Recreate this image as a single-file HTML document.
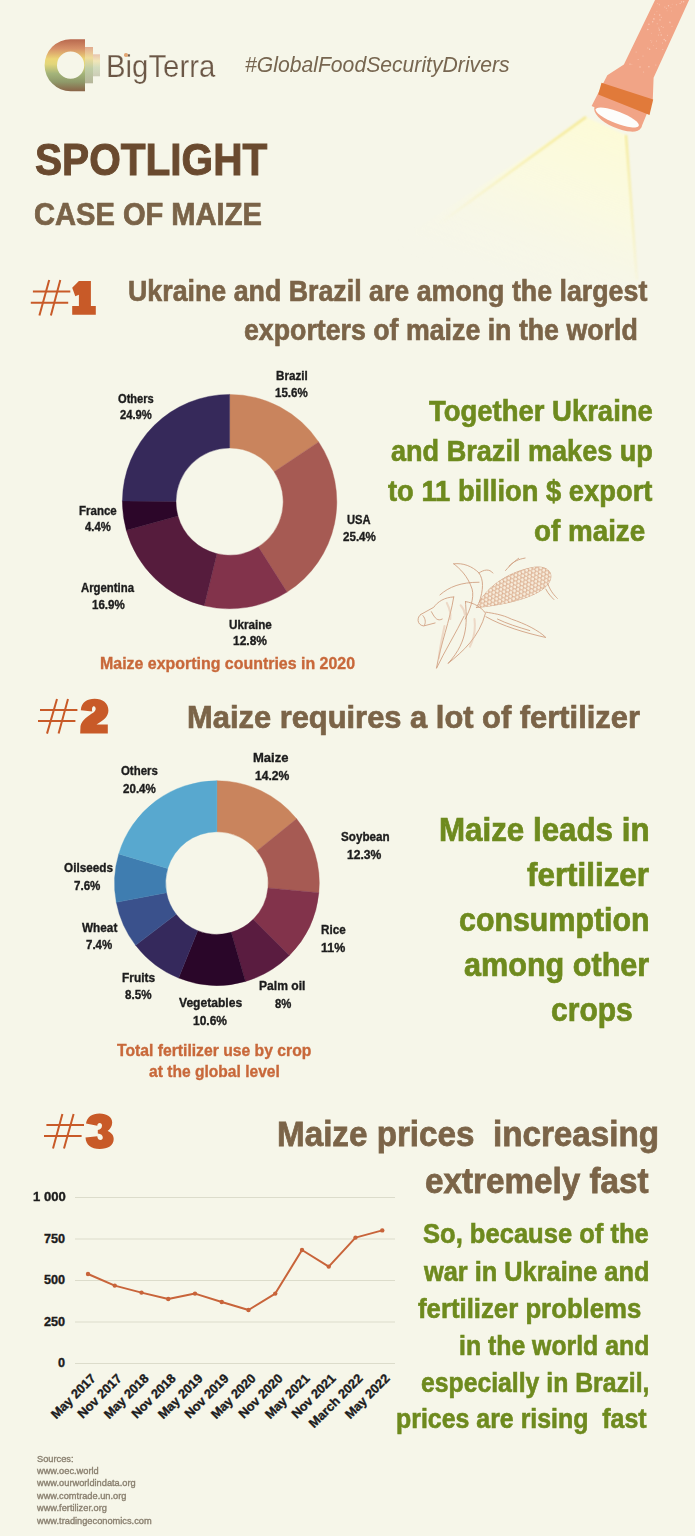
<!DOCTYPE html>
<html><head><meta charset="utf-8"><title>Spotlight: Case of Maize</title>
<style>
html,body{margin:0;padding:0;}
body{width:695px;height:1536px;background:#f6f6e9;position:relative;overflow:hidden;font-family:"Liberation Sans",sans-serif;}
.t{position:absolute;white-space:pre;line-height:1;font-weight:700;transform-origin:0 0;}
svg.g{position:absolute;left:0;top:0;}
.xl{position:absolute;white-space:pre;line-height:1;font-weight:700;text-align:right;color:#1c1c1c;transform:rotate(-45deg);-webkit-text-stroke:0.35px #1c1c1c;}
</style></head><body>
<svg class="g" width="695" height="1536" viewBox="0 0 695 1536">
<defs><linearGradient id="lg" x1="0" y1="0" x2="0" y2="1">
<stop offset="0" stop-color="#b8684e"/><stop offset="0.18" stop-color="#d69068"/>
<stop offset="0.38" stop-color="#ecd676"/><stop offset="0.48" stop-color="#e2d67a"/><stop offset="0.66" stop-color="#a4b47a"/>
<stop offset="0.82" stop-color="#8f9a6a"/><stop offset="1" stop-color="#8a6448"/></linearGradient>
<linearGradient id="lgr" x1="0" y1="0" x2="0" y2="1">
<stop offset="0" stop-color="#d88a68"/><stop offset="0.3" stop-color="#ecd27a"/>
<stop offset="0.6" stop-color="#a8bc88"/><stop offset="1" stop-color="#9a9a78"/></linearGradient></defs>
<path d="M70.6,39.20 L85,39.20 L85,91.20 L70.6,91.20 A26,26 0 0 1 70.6,39.20 Z M84.19999999999999,65.2 A13.6,13.6 0 1 0 56.99999999999999,65.2 A13.6,13.6 0 1 0 84.19999999999999,65.2 Z" fill="url(#lg)" fill-rule="evenodd"/>
<rect x="85" y="47" width="8" height="36.3" fill="url(#lgr)" opacity="0.7"/>
<rect x="93" y="54.3" width="7" height="22" fill="url(#lgr)" opacity="0.45"/>
<defs>
<linearGradient id="beam" x1="0.9" y1="0" x2="0.35" y2="1">
<stop offset="0" stop-color="#fdfbd6" stop-opacity="1"/>
<stop offset="0.45" stop-color="#fbfadf" stop-opacity="0.85"/>
<stop offset="1" stop-color="#f6f6e9" stop-opacity="0"/></linearGradient>
<linearGradient id="edgeL" x1="1" y1="0" x2="0" y2="1">
<stop offset="0" stop-color="#f4e88e" stop-opacity="1"/>
<stop offset="1" stop-color="#f4e88e" stop-opacity="0"/></linearGradient>
<linearGradient id="edgeR" x1="0" y1="0" x2="0" y2="1">
<stop offset="0" stop-color="#f4e88e" stop-opacity="1"/>
<stop offset="1" stop-color="#f4e88e" stop-opacity="0.15"/></linearGradient>
<filter id="blur1"><feGaussianBlur stdDeviation="1.2"/></filter>
</defs>
<path d="M586,117 L626,135 L637,282 L430,282 L400,240 Z" fill="url(#beam)" filter="url(#blur1)"/>
<path d="M586,117 L439,224" stroke="url(#edgeL)" stroke-width="2.2" fill="none" filter="url(#blur1)"/>
<path d="M626,135 L637,280" stroke="url(#edgeR)" stroke-width="2" fill="none" filter="url(#blur1)"/>
<path d="M656,-2 L690,-2 L653.6,77.8 L652.8,99.3 L641,128 L591.6,105.9 L607.3,75.3 L623.9,64.5 Z" fill="#f1a486"/>
<ellipse cx="617.8" cy="117.5" rx="25.5" ry="10.5" transform="rotate(24 617.8 117.5)" fill="#f1a486"/>
<g fill="#fbd2c0" opacity="0.8"><circle cx="652.7" cy="21.8" r="0.7"/><circle cx="679.3" cy="3.6" r="0.4"/><circle cx="648.9" cy="24.3" r="0.7"/><circle cx="654.6" cy="14.3" r="0.5"/><circle cx="659.4" cy="4.7" r="0.5"/><circle cx="672.2" cy="4.2" r="0.4"/><circle cx="653.3" cy="45.4" r="0.4"/><circle cx="650.5" cy="40.4" r="0.4"/><circle cx="680.3" cy="3.5" r="0.5"/><circle cx="659.4" cy="30.0" r="0.7"/><circle cx="670.2" cy="23.0" r="0.4"/><circle cx="670.9" cy="7.4" r="0.4"/><circle cx="661.2" cy="26.7" r="0.4"/><circle cx="656.4" cy="40.9" r="0.5"/><circle cx="647.8" cy="47.9" r="0.5"/><circle cx="667.5" cy="35.2" r="0.5"/><circle cx="669.9" cy="22.3" r="0.7"/><circle cx="636.1" cy="52.0" r="0.5"/><circle cx="664.2" cy="39.5" r="0.7"/><circle cx="660.1" cy="32.5" r="0.4"/><circle cx="666.4" cy="8.3" r="0.5"/><circle cx="667.1" cy="10.8" r="0.4"/><circle cx="630.0" cy="64.1" r="0.7"/><circle cx="662.5" cy="43.1" r="0.5"/><circle cx="657.2" cy="23.7" r="0.5"/><circle cx="651.9" cy="41.0" r="0.4"/><circle cx="640.0" cy="67.0" r="0.7"/><circle cx="676.4" cy="4.8" r="0.5"/><circle cx="662.8" cy="49.4" r="0.5"/><circle cx="660.0" cy="19.9" r="0.7"/><circle cx="672.0" cy="26.3" r="0.5"/><circle cx="656.9" cy="11.3" r="0.4"/><circle cx="659.7" cy="15.0" r="0.7"/><circle cx="661.3" cy="17.3" r="0.5"/><circle cx="668.5" cy="5.7" r="0.7"/><circle cx="653.8" cy="18.7" r="0.5"/><circle cx="638.1" cy="59.4" r="0.5"/><circle cx="643.6" cy="72.1" r="0.5"/><circle cx="631.9" cy="64.6" r="0.4"/><circle cx="671.5" cy="11.0" r="0.4"/><circle cx="658.4" cy="35.0" r="0.5"/><circle cx="653.9" cy="19.0" r="0.7"/><circle cx="661.7" cy="26.5" r="0.4"/><circle cx="649.6" cy="49.2" r="0.7"/><circle cx="656.3" cy="48.3" r="0.5"/><circle cx="648.9" cy="66.7" r="0.7"/><circle cx="643.0" cy="55.9" r="0.5"/><circle cx="658.8" cy="28.0" r="0.5"/><circle cx="659.1" cy="4.1" r="0.4"/><circle cx="647.8" cy="29.5" r="0.7"/><circle cx="657.6" cy="3.5" r="0.4"/><circle cx="665.6" cy="40.7" r="0.7"/><circle cx="681.5" cy="1.9" r="0.7"/><circle cx="663.2" cy="27.3" r="0.5"/><circle cx="651.6" cy="42.7" r="0.4"/><circle cx="655.8" cy="64.9" r="0.5"/><circle cx="651.6" cy="33.2" r="0.4"/><circle cx="664.9" cy="7.1" r="0.5"/><circle cx="661.2" cy="35.0" r="0.7"/><circle cx="683.6" cy="1.8" r="0.7"/></g>
<path d="M601.5,82.7 L653.2,99.5 L649.5,115 L598.2,94.5 Z" fill="#e17a3a"/>
<ellipse cx="617.3" cy="117.5" rx="23" ry="5.9" transform="rotate(21 617.3 117.5)" fill="#fdfdfb"/>
<line x1="32.9" y1="291.6" x2="70.3" y2="291.6" stroke="#c85a28" stroke-width="2"/>
<line x1="30.8" y1="302.7" x2="68.2" y2="302.7" stroke="#c85a28" stroke-width="2"/>
<line x1="49.2" y1="280.1" x2="39.4" y2="315.4" stroke="#c85a28" stroke-width="2"/>
<line x1="60.3" y1="280.1" x2="50.9" y2="315.4" stroke="#c85a28" stroke-width="2"/>
<path d="M78.9,281 L90.9,281 L90.9,306.1 L95.8,306.1 L95.8,314.7 L72.2,314.7 L72.2,306.1 L78.9,306.1 L78.9,294.7 L75.3,296.3 L72.2,287.7 Z" fill="#c85a28"/>
<line x1="40" y1="710" x2="77.4" y2="710" stroke="#c85a28" stroke-width="2"/>
<line x1="38" y1="721" x2="75.4" y2="721" stroke="#c85a28" stroke-width="2"/>
<line x1="57" y1="699" x2="47" y2="733.6" stroke="#c85a28" stroke-width="2"/>
<line x1="68" y1="699" x2="58.6" y2="733.6" stroke="#c85a28" stroke-width="2"/>
<path d="M80.8,710.3 C81.5,702 87,698.8 94.6,698.8 C102.5,698.8 108.4,703 108.4,710.5 C108.4,717 103,720.5 96.5,724.6 L107.8,724.6 L107.8,733.6 L80.2,733.6 L80.5,726 C82,720 88,716 93.5,712.5 C96,710.5 96.5,708 94.6,706.5 C92.5,705.5 91.5,708.5 92.3,711.5 Z" fill="#c85a28"/>
<line x1="46.4" y1="1125" x2="84" y2="1125" stroke="#c85a28" stroke-width="2"/>
<line x1="44" y1="1136" x2="81.6" y2="1136" stroke="#c85a28" stroke-width="2"/>
<line x1="62.4" y1="1114" x2="53" y2="1148.6" stroke="#c85a28" stroke-width="2"/>
<line x1="73.6" y1="1114" x2="64" y2="1148.6" stroke="#c85a28" stroke-width="2"/>
<path d="M86,1123.5 C87,1117 92,1113.5 99.5,1113.5 C107,1113.5 112.2,1117 112.2,1122.5 C112.2,1126.5 110,1129 107.6,1131 C111,1132.5 113.7,1135 113.7,1139 C113.7,1145.5 108,1148.9 99.6,1148.9 C91,1148.9 86,1145 85.5,1137.4 L97.3,1136.2 C97.5,1139 99,1140 100.5,1140 C102,1140 102.8,1139 102.8,1137.5 C102.8,1135 101,1134 97.8,1133.5 L97.8,1130 C100.5,1129.5 102,1128 102,1125.5 C102,1124 101,1123 99.7,1123 C98.3,1123 97.3,1124 97.3,1125.8 Z" fill="#c85a28"/>
<path d="M229.60,394.40 A107.2,107.2 0 0 1 318.64,441.90 L274.12,471.75 A53.6,53.6 0 0 0 229.60,448.00 Z" fill="#c9845d" stroke="#c9845d" stroke-width="0.4"/>
<path d="M318.64,441.90 A107.2,107.2 0 0 1 287.04,592.11 L258.32,546.86 A53.6,53.6 0 0 0 274.12,471.75 Z" fill="#a65a53" stroke="#a65a53" stroke-width="0.4"/>
<path d="M287.04,592.11 A107.2,107.2 0 0 1 204.25,605.76 L216.92,553.68 A53.6,53.6 0 0 0 258.32,546.86 Z" fill="#82334b" stroke="#82334b" stroke-width="0.4"/>
<path d="M204.25,605.76 A107.2,107.2 0 0 1 126.29,530.21 L177.94,515.91 A53.6,53.6 0 0 0 216.92,553.68 Z" fill="#561c3d" stroke="#561c3d" stroke-width="0.4"/>
<path d="M126.29,530.21 A107.2,107.2 0 0 1 122.40,500.93 L176.00,501.26 A53.6,53.6 0 0 0 177.94,515.91 Z" fill="#2c0629" stroke="#2c0629" stroke-width="0.4"/>
<path d="M122.40,500.93 A107.2,107.2 0 0 1 229.60,394.40 L229.60,448.00 A53.6,53.6 0 0 0 176.00,501.26 Z" fill="#36295a" stroke="#36295a" stroke-width="0.4"/>
<path d="M216.90,780.70 A102.4,102.4 0 0 1 296.61,818.82 L256.84,850.90 A51.3,51.3 0 0 0 216.90,831.80 Z" fill="#c9845d" stroke="#c9845d" stroke-width="0.4"/>
<path d="M296.61,818.82 A102.4,102.4 0 0 1 318.85,892.74 L267.97,887.93 A51.3,51.3 0 0 0 256.84,850.90 Z" fill="#a65a53" stroke="#a65a53" stroke-width="0.4"/>
<path d="M318.85,892.74 A102.4,102.4 0 0 1 289.31,955.51 L253.17,919.37 A51.3,51.3 0 0 0 267.97,887.93 Z" fill="#82334b" stroke="#82334b" stroke-width="0.4"/>
<path d="M289.31,955.51 A102.4,102.4 0 0 1 245.47,981.43 L231.21,932.36 A51.3,51.3 0 0 0 253.17,919.37 Z" fill="#5a1c40" stroke="#5a1c40" stroke-width="0.4"/>
<path d="M245.47,981.43 A102.4,102.4 0 0 1 178.61,978.07 L197.72,930.68 A51.3,51.3 0 0 0 231.21,932.36 Z" fill="#2a0629" stroke="#2a0629" stroke-width="0.4"/>
<path d="M178.61,978.07 A102.4,102.4 0 0 1 135.60,945.35 L176.17,914.29 A51.3,51.3 0 0 0 197.72,930.68 Z" fill="#35295c" stroke="#35295c" stroke-width="0.4"/>
<path d="M135.60,945.35 A102.4,102.4 0 0 1 116.31,902.29 L166.51,892.71 A51.3,51.3 0 0 0 176.17,914.29 Z" fill="#3a518c" stroke="#3a518c" stroke-width="0.4"/>
<path d="M116.31,902.29 A102.4,102.4 0 0 1 118.75,853.91 L167.73,868.48 A51.3,51.3 0 0 0 166.51,892.71 Z" fill="#3f7db0" stroke="#3f7db0" stroke-width="0.4"/>
<path d="M118.75,853.91 A102.4,102.4 0 0 1 216.90,780.70 L216.90,831.80 A51.3,51.3 0 0 0 167.73,868.48 Z" fill="#58a8cf" stroke="#58a8cf" stroke-width="0.4"/>
<line x1="75" y1="1197.50" x2="395" y2="1197.50" stroke="#dcdccb" stroke-width="1"/>
<line x1="75" y1="1239.00" x2="395" y2="1239.00" stroke="#dcdccb" stroke-width="1"/>
<line x1="75" y1="1280.50" x2="395" y2="1280.50" stroke="#dcdccb" stroke-width="1"/>
<line x1="75" y1="1322.00" x2="395" y2="1322.00" stroke="#dcdccb" stroke-width="1"/>
<line x1="75" y1="1363.50" x2="395" y2="1363.50" stroke="#dcdccb" stroke-width="1"/>
<path d="M88.00,1274.00 L114.75,1285.60 L141.50,1292.60 L168.25,1299.00 L195.00,1293.60 L221.75,1302.00 L248.50,1310.00 L275.25,1293.60 L302.00,1250.00 L328.75,1266.60 L355.50,1237.60 L382.25,1230.40" stroke="#c8643a" stroke-width="2" fill="none" stroke-linejoin="round"/>
<circle cx="88.00" cy="1274.00" r="2.2" fill="#c8643a"/>
<circle cx="114.75" cy="1285.60" r="2.2" fill="#c8643a"/>
<circle cx="141.50" cy="1292.60" r="2.2" fill="#c8643a"/>
<circle cx="168.25" cy="1299.00" r="2.2" fill="#c8643a"/>
<circle cx="195.00" cy="1293.60" r="2.2" fill="#c8643a"/>
<circle cx="221.75" cy="1302.00" r="2.2" fill="#c8643a"/>
<circle cx="248.50" cy="1310.00" r="2.2" fill="#c8643a"/>
<circle cx="275.25" cy="1293.60" r="2.2" fill="#c8643a"/>
<circle cx="302.00" cy="1250.00" r="2.2" fill="#c8643a"/>
<circle cx="328.75" cy="1266.60" r="2.2" fill="#c8643a"/>
<circle cx="355.50" cy="1237.60" r="2.2" fill="#c8643a"/>
<circle cx="382.25" cy="1230.40" r="2.2" fill="#c8643a"/>
<defs><clipPath id="cobclip"><path d="M290,250 C320,170 420,95 540,75 C600,68 625,100 605,140 C580,185 480,230 290,250 Z"/></clipPath></defs>
<g transform="translate(410,550) scale(0.2302)" fill="none" stroke="#d09e80" stroke-width="3.8" stroke-linecap="round" stroke-linejoin="round">
<path d="M290,250 C320,170 420,95 540,75 C600,68 625,100 605,140 C580,185 480,230 290,250 Z"/>
<g clip-path="url(#cobclip)" stroke-width="2.4" stroke="#d9a585" fill="#f6ead9"><circle cx="217.3" cy="168.1" r="8.2"/><circle cx="215.7" cy="185.3" r="8.2"/><circle cx="229.5" cy="195.5" r="8.2"/><circle cx="227.9" cy="212.7" r="8.2"/><circle cx="241.7" cy="222.9" r="8.2"/><circle cx="240.1" cy="240.1" r="8.2"/><circle cx="253.9" cy="250.3" r="8.2"/><circle cx="252.3" cy="267.5" r="8.2"/><circle cx="266.1" cy="277.7" r="8.2"/><circle cx="264.5" cy="294.9" r="8.2"/><circle cx="278.4" cy="305.1" r="8.2"/><circle cx="276.7" cy="322.3" r="8.2"/><circle cx="232.9" cy="161.2" r="8.2"/><circle cx="231.2" cy="178.3" r="8.2"/><circle cx="245.1" cy="188.6" r="8.2"/><circle cx="243.4" cy="205.7" r="8.2"/><circle cx="257.3" cy="216.0" r="8.2"/><circle cx="255.6" cy="233.1" r="8.2"/><circle cx="269.5" cy="243.4" r="8.2"/><circle cx="267.8" cy="260.6" r="8.2"/><circle cx="281.7" cy="270.8" r="8.2"/><circle cx="280.0" cy="288.0" r="8.2"/><circle cx="293.9" cy="298.2" r="8.2"/><circle cx="292.2" cy="315.4" r="8.2"/><circle cx="248.4" cy="154.3" r="8.2"/><circle cx="246.7" cy="171.4" r="8.2"/><circle cx="260.6" cy="181.7" r="8.2"/><circle cx="258.9" cy="198.8" r="8.2"/><circle cx="272.8" cy="209.1" r="8.2"/><circle cx="271.1" cy="226.2" r="8.2"/><circle cx="285.0" cy="236.5" r="8.2"/><circle cx="283.3" cy="253.6" r="8.2"/><circle cx="297.2" cy="263.9" r="8.2"/><circle cx="295.5" cy="281.0" r="8.2"/><circle cx="309.4" cy="291.3" r="8.2"/><circle cx="307.7" cy="308.5" r="8.2"/><circle cx="263.9" cy="147.3" r="8.2"/><circle cx="262.3" cy="164.5" r="8.2"/><circle cx="276.1" cy="174.8" r="8.2"/><circle cx="274.5" cy="191.9" r="8.2"/><circle cx="288.3" cy="202.2" r="8.2"/><circle cx="286.7" cy="219.3" r="8.2"/><circle cx="300.5" cy="229.6" r="8.2"/><circle cx="298.9" cy="246.7" r="8.2"/><circle cx="312.7" cy="257.0" r="8.2"/><circle cx="311.1" cy="274.1" r="8.2"/><circle cx="324.9" cy="284.4" r="8.2"/><circle cx="323.3" cy="301.5" r="8.2"/><circle cx="279.5" cy="140.4" r="8.2"/><circle cx="277.8" cy="157.6" r="8.2"/><circle cx="291.7" cy="167.8" r="8.2"/><circle cx="290.0" cy="185.0" r="8.2"/><circle cx="303.9" cy="195.2" r="8.2"/><circle cx="302.2" cy="212.4" r="8.2"/><circle cx="316.1" cy="222.7" r="8.2"/><circle cx="314.4" cy="239.8" r="8.2"/><circle cx="328.3" cy="250.1" r="8.2"/><circle cx="326.6" cy="267.2" r="8.2"/><circle cx="340.5" cy="277.5" r="8.2"/><circle cx="338.8" cy="294.6" r="8.2"/><circle cx="295.0" cy="133.5" r="8.2"/><circle cx="293.3" cy="150.7" r="8.2"/><circle cx="307.2" cy="160.9" r="8.2"/><circle cx="305.5" cy="178.1" r="8.2"/><circle cx="319.4" cy="188.3" r="8.2"/><circle cx="317.7" cy="205.5" r="8.2"/><circle cx="331.6" cy="215.7" r="8.2"/><circle cx="329.9" cy="232.9" r="8.2"/><circle cx="343.8" cy="243.1" r="8.2"/><circle cx="342.1" cy="260.3" r="8.2"/><circle cx="356.0" cy="270.6" r="8.2"/><circle cx="354.3" cy="287.7" r="8.2"/><circle cx="310.5" cy="126.6" r="8.2"/><circle cx="308.9" cy="143.8" r="8.2"/><circle cx="322.7" cy="154.0" r="8.2"/><circle cx="321.1" cy="171.2" r="8.2"/><circle cx="334.9" cy="181.4" r="8.2"/><circle cx="333.3" cy="198.6" r="8.2"/><circle cx="347.1" cy="208.8" r="8.2"/><circle cx="345.5" cy="226.0" r="8.2"/><circle cx="359.3" cy="236.2" r="8.2"/><circle cx="357.7" cy="253.4" r="8.2"/><circle cx="371.5" cy="263.6" r="8.2"/><circle cx="369.9" cy="280.8" r="8.2"/><circle cx="326.1" cy="119.7" r="8.2"/><circle cx="324.4" cy="136.9" r="8.2"/><circle cx="338.3" cy="147.1" r="8.2"/><circle cx="336.6" cy="164.3" r="8.2"/><circle cx="350.5" cy="174.5" r="8.2"/><circle cx="348.8" cy="191.7" r="8.2"/><circle cx="362.7" cy="201.9" r="8.2"/><circle cx="361.0" cy="219.1" r="8.2"/><circle cx="374.9" cy="229.3" r="8.2"/><circle cx="373.2" cy="246.5" r="8.2"/><circle cx="387.1" cy="256.7" r="8.2"/><circle cx="385.4" cy="273.9" r="8.2"/><circle cx="341.6" cy="112.8" r="8.2"/><circle cx="339.9" cy="129.9" r="8.2"/><circle cx="353.8" cy="140.2" r="8.2"/><circle cx="352.1" cy="157.3" r="8.2"/><circle cx="366.0" cy="167.6" r="8.2"/><circle cx="364.3" cy="184.7" r="8.2"/><circle cx="378.2" cy="195.0" r="8.2"/><circle cx="376.5" cy="212.2" r="8.2"/><circle cx="390.4" cy="222.4" r="8.2"/><circle cx="388.7" cy="239.6" r="8.2"/><circle cx="402.6" cy="249.8" r="8.2"/><circle cx="400.9" cy="267.0" r="8.2"/><circle cx="357.1" cy="105.9" r="8.2"/><circle cx="355.4" cy="123.0" r="8.2"/><circle cx="369.3" cy="133.3" r="8.2"/><circle cx="367.7" cy="150.4" r="8.2"/><circle cx="381.5" cy="160.7" r="8.2"/><circle cx="379.9" cy="177.8" r="8.2"/><circle cx="393.7" cy="188.1" r="8.2"/><circle cx="392.1" cy="205.2" r="8.2"/><circle cx="405.9" cy="215.5" r="8.2"/><circle cx="404.3" cy="232.6" r="8.2"/><circle cx="418.1" cy="242.9" r="8.2"/><circle cx="416.5" cy="260.1" r="8.2"/><circle cx="372.6" cy="98.9" r="8.2"/><circle cx="371.0" cy="116.1" r="8.2"/><circle cx="384.8" cy="126.4" r="8.2"/><circle cx="383.2" cy="143.5" r="8.2"/><circle cx="397.0" cy="153.8" r="8.2"/><circle cx="395.4" cy="170.9" r="8.2"/><circle cx="409.2" cy="181.2" r="8.2"/><circle cx="407.6" cy="198.3" r="8.2"/><circle cx="421.5" cy="208.6" r="8.2"/><circle cx="419.8" cy="225.7" r="8.2"/><circle cx="433.7" cy="236.0" r="8.2"/><circle cx="432.0" cy="253.1" r="8.2"/><circle cx="388.2" cy="92.0" r="8.2"/><circle cx="386.5" cy="109.2" r="8.2"/><circle cx="400.4" cy="119.4" r="8.2"/><circle cx="398.7" cy="136.6" r="8.2"/><circle cx="412.6" cy="146.8" r="8.2"/><circle cx="410.9" cy="164.0" r="8.2"/><circle cx="424.8" cy="174.3" r="8.2"/><circle cx="423.1" cy="191.4" r="8.2"/><circle cx="437.0" cy="201.7" r="8.2"/><circle cx="435.3" cy="218.8" r="8.2"/><circle cx="449.2" cy="229.1" r="8.2"/><circle cx="447.5" cy="246.2" r="8.2"/><circle cx="403.7" cy="85.1" r="8.2"/><circle cx="402.0" cy="102.3" r="8.2"/><circle cx="415.9" cy="112.5" r="8.2"/><circle cx="414.2" cy="129.7" r="8.2"/><circle cx="428.1" cy="139.9" r="8.2"/><circle cx="426.4" cy="157.1" r="8.2"/><circle cx="440.3" cy="167.3" r="8.2"/><circle cx="438.6" cy="184.5" r="8.2"/><circle cx="452.5" cy="194.7" r="8.2"/><circle cx="450.8" cy="211.9" r="8.2"/><circle cx="464.7" cy="222.1" r="8.2"/><circle cx="463.1" cy="239.3" r="8.2"/><circle cx="419.2" cy="78.2" r="8.2"/><circle cx="417.6" cy="95.4" r="8.2"/><circle cx="431.4" cy="105.6" r="8.2"/><circle cx="429.8" cy="122.8" r="8.2"/><circle cx="443.6" cy="133.0" r="8.2"/><circle cx="442.0" cy="150.2" r="8.2"/><circle cx="455.8" cy="160.4" r="8.2"/><circle cx="454.2" cy="177.6" r="8.2"/><circle cx="468.0" cy="187.8" r="8.2"/><circle cx="466.4" cy="205.0" r="8.2"/><circle cx="480.2" cy="215.2" r="8.2"/><circle cx="478.6" cy="232.4" r="8.2"/><circle cx="434.8" cy="71.3" r="8.2"/><circle cx="433.1" cy="88.4" r="8.2"/><circle cx="447.0" cy="98.7" r="8.2"/><circle cx="445.3" cy="115.9" r="8.2"/><circle cx="459.2" cy="126.1" r="8.2"/><circle cx="457.5" cy="143.3" r="8.2"/><circle cx="471.4" cy="153.5" r="8.2"/><circle cx="469.7" cy="170.7" r="8.2"/><circle cx="483.6" cy="180.9" r="8.2"/><circle cx="481.9" cy="198.1" r="8.2"/><circle cx="495.8" cy="208.3" r="8.2"/><circle cx="494.1" cy="225.5" r="8.2"/><circle cx="450.3" cy="64.4" r="8.2"/><circle cx="448.6" cy="81.5" r="8.2"/><circle cx="462.5" cy="91.8" r="8.2"/><circle cx="460.8" cy="108.9" r="8.2"/><circle cx="474.7" cy="119.2" r="8.2"/><circle cx="473.0" cy="136.3" r="8.2"/><circle cx="486.9" cy="146.6" r="8.2"/><circle cx="485.2" cy="163.8" r="8.2"/><circle cx="499.1" cy="174.0" r="8.2"/><circle cx="497.4" cy="191.2" r="8.2"/><circle cx="511.3" cy="201.4" r="8.2"/><circle cx="509.6" cy="218.6" r="8.2"/><circle cx="465.8" cy="57.5" r="8.2"/><circle cx="464.2" cy="74.6" r="8.2"/><circle cx="478.0" cy="84.9" r="8.2"/><circle cx="476.4" cy="102.0" r="8.2"/><circle cx="490.2" cy="112.3" r="8.2"/><circle cx="488.6" cy="129.4" r="8.2"/><circle cx="502.4" cy="139.7" r="8.2"/><circle cx="500.8" cy="156.8" r="8.2"/><circle cx="514.6" cy="167.1" r="8.2"/><circle cx="513.0" cy="184.2" r="8.2"/><circle cx="526.8" cy="194.5" r="8.2"/><circle cx="525.2" cy="211.7" r="8.2"/><circle cx="481.4" cy="50.5" r="8.2"/><circle cx="479.7" cy="67.7" r="8.2"/><circle cx="493.6" cy="78.0" r="8.2"/><circle cx="491.9" cy="95.1" r="8.2"/><circle cx="505.8" cy="105.4" r="8.2"/><circle cx="504.1" cy="122.5" r="8.2"/><circle cx="518.0" cy="132.8" r="8.2"/><circle cx="516.3" cy="149.9" r="8.2"/><circle cx="530.2" cy="160.2" r="8.2"/><circle cx="528.5" cy="177.3" r="8.2"/><circle cx="542.4" cy="187.6" r="8.2"/><circle cx="540.7" cy="204.7" r="8.2"/><circle cx="496.9" cy="43.6" r="8.2"/><circle cx="495.2" cy="60.8" r="8.2"/><circle cx="509.1" cy="71.0" r="8.2"/><circle cx="507.4" cy="88.2" r="8.2"/><circle cx="521.3" cy="98.4" r="8.2"/><circle cx="519.6" cy="115.6" r="8.2"/><circle cx="533.5" cy="125.8" r="8.2"/><circle cx="531.8" cy="143.0" r="8.2"/><circle cx="545.7" cy="153.3" r="8.2"/><circle cx="544.0" cy="170.4" r="8.2"/><circle cx="557.9" cy="180.7" r="8.2"/><circle cx="556.2" cy="197.8" r="8.2"/><circle cx="512.4" cy="36.7" r="8.2"/><circle cx="510.8" cy="53.9" r="8.2"/><circle cx="524.6" cy="64.1" r="8.2"/><circle cx="523.0" cy="81.3" r="8.2"/><circle cx="536.8" cy="91.5" r="8.2"/><circle cx="535.2" cy="108.7" r="8.2"/><circle cx="549.0" cy="118.9" r="8.2"/><circle cx="547.4" cy="136.1" r="8.2"/><circle cx="561.2" cy="146.3" r="8.2"/><circle cx="559.6" cy="163.5" r="8.2"/><circle cx="573.4" cy="173.7" r="8.2"/><circle cx="571.8" cy="190.9" r="8.2"/><circle cx="527.9" cy="29.8" r="8.2"/><circle cx="526.3" cy="47.0" r="8.2"/><circle cx="540.1" cy="57.2" r="8.2"/><circle cx="538.5" cy="74.4" r="8.2"/><circle cx="552.4" cy="84.6" r="8.2"/><circle cx="550.7" cy="101.8" r="8.2"/><circle cx="564.6" cy="112.0" r="8.2"/><circle cx="562.9" cy="129.2" r="8.2"/><circle cx="576.8" cy="139.4" r="8.2"/><circle cx="575.1" cy="156.6" r="8.2"/><circle cx="589.0" cy="166.8" r="8.2"/><circle cx="587.3" cy="184.0" r="8.2"/><circle cx="543.5" cy="22.9" r="8.2"/><circle cx="541.8" cy="40.0" r="8.2"/><circle cx="555.7" cy="50.3" r="8.2"/><circle cx="554.0" cy="67.5" r="8.2"/><circle cx="567.9" cy="77.7" r="8.2"/><circle cx="566.2" cy="94.9" r="8.2"/><circle cx="580.1" cy="105.1" r="8.2"/><circle cx="578.4" cy="122.3" r="8.2"/><circle cx="592.3" cy="132.5" r="8.2"/><circle cx="590.6" cy="149.7" r="8.2"/><circle cx="604.5" cy="159.9" r="8.2"/><circle cx="602.8" cy="177.1" r="8.2"/><circle cx="559.0" cy="16.0" r="8.2"/><circle cx="557.3" cy="33.1" r="8.2"/><circle cx="571.2" cy="43.4" r="8.2"/><circle cx="569.5" cy="60.5" r="8.2"/><circle cx="583.4" cy="70.8" r="8.2"/><circle cx="581.7" cy="87.9" r="8.2"/><circle cx="595.6" cy="98.2" r="8.2"/><circle cx="593.9" cy="115.4" r="8.2"/><circle cx="607.8" cy="125.6" r="8.2"/><circle cx="606.2" cy="142.8" r="8.2"/><circle cx="620.0" cy="153.0" r="8.2"/><circle cx="618.4" cy="170.2" r="8.2"/><circle cx="574.5" cy="9.1" r="8.2"/><circle cx="572.9" cy="26.2" r="8.2"/><circle cx="586.7" cy="36.5" r="8.2"/><circle cx="585.1" cy="53.6" r="8.2"/><circle cx="598.9" cy="63.9" r="8.2"/><circle cx="597.3" cy="81.0" r="8.2"/><circle cx="611.1" cy="91.3" r="8.2"/><circle cx="609.5" cy="108.4" r="8.2"/><circle cx="623.3" cy="118.7" r="8.2"/><circle cx="621.7" cy="135.8" r="8.2"/><circle cx="635.5" cy="146.1" r="8.2"/><circle cx="633.9" cy="163.2" r="8.2"/><circle cx="590.1" cy="2.1" r="8.2"/><circle cx="588.4" cy="19.3" r="8.2"/><circle cx="602.3" cy="29.5" r="8.2"/><circle cx="600.6" cy="46.7" r="8.2"/><circle cx="614.5" cy="57.0" r="8.2"/><circle cx="612.8" cy="74.1" r="8.2"/><circle cx="626.7" cy="84.4" r="8.2"/><circle cx="625.0" cy="101.5" r="8.2"/><circle cx="638.9" cy="111.8" r="8.2"/><circle cx="637.2" cy="128.9" r="8.2"/><circle cx="651.1" cy="139.2" r="8.2"/><circle cx="649.4" cy="156.3" r="8.2"/><circle cx="605.6" cy="-4.8" r="8.2"/><circle cx="603.9" cy="12.4" r="8.2"/><circle cx="617.8" cy="22.6" r="8.2"/><circle cx="616.1" cy="39.8" r="8.2"/><circle cx="630.0" cy="50.0" r="8.2"/><circle cx="628.3" cy="67.2" r="8.2"/><circle cx="642.2" cy="77.4" r="8.2"/><circle cx="640.5" cy="94.6" r="8.2"/><circle cx="654.4" cy="104.9" r="8.2"/><circle cx="652.7" cy="122.0" r="8.2"/><circle cx="666.6" cy="132.3" r="8.2"/><circle cx="664.9" cy="149.4" r="8.2"/><circle cx="621.1" cy="-11.7" r="8.2"/><circle cx="619.5" cy="5.5" r="8.2"/><circle cx="633.3" cy="15.7" r="8.2"/><circle cx="631.7" cy="32.9" r="8.2"/><circle cx="645.5" cy="43.1" r="8.2"/><circle cx="643.9" cy="60.3" r="8.2"/><circle cx="657.7" cy="70.5" r="8.2"/><circle cx="656.1" cy="87.7" r="8.2"/><circle cx="669.9" cy="97.9" r="8.2"/><circle cx="668.3" cy="115.1" r="8.2"/><circle cx="682.1" cy="125.3" r="8.2"/><circle cx="680.5" cy="142.5" r="8.2"/><circle cx="636.7" cy="-18.6" r="8.2"/><circle cx="635.0" cy="-1.4" r="8.2"/><circle cx="648.9" cy="8.8" r="8.2"/><circle cx="647.2" cy="26.0" r="8.2"/><circle cx="661.1" cy="36.2" r="8.2"/><circle cx="659.4" cy="53.4" r="8.2"/><circle cx="673.3" cy="63.6" r="8.2"/><circle cx="671.6" cy="80.8" r="8.2"/><circle cx="685.5" cy="91.0" r="8.2"/><circle cx="683.8" cy="108.2" r="8.2"/><circle cx="697.7" cy="118.4" r="8.2"/><circle cx="696.0" cy="135.6" r="8.2"/><circle cx="652.2" cy="-25.5" r="8.2"/><circle cx="650.5" cy="-8.4" r="8.2"/><circle cx="664.4" cy="1.9" r="8.2"/><circle cx="662.7" cy="19.1" r="8.2"/><circle cx="676.6" cy="29.3" r="8.2"/><circle cx="674.9" cy="46.5" r="8.2"/><circle cx="688.8" cy="56.7" r="8.2"/><circle cx="687.1" cy="73.9" r="8.2"/><circle cx="701.0" cy="84.1" r="8.2"/><circle cx="699.3" cy="101.3" r="8.2"/><circle cx="713.2" cy="111.5" r="8.2"/><circle cx="711.5" cy="128.7" r="8.2"/><circle cx="667.7" cy="-32.4" r="8.2"/><circle cx="666.1" cy="-15.3" r="8.2"/><circle cx="679.9" cy="-5.0" r="8.2"/><circle cx="678.3" cy="12.1" r="8.2"/><circle cx="692.1" cy="22.4" r="8.2"/><circle cx="690.5" cy="39.5" r="8.2"/><circle cx="704.3" cy="49.8" r="8.2"/><circle cx="702.7" cy="66.9" r="8.2"/><circle cx="716.5" cy="77.2" r="8.2"/><circle cx="714.9" cy="94.4" r="8.2"/><circle cx="728.7" cy="104.6" r="8.2"/><circle cx="727.1" cy="121.8" r="8.2"/></g>
<path d="M190,60 C230,55 270,70 300,100 C320,130 320,170 300,230"/>
<path d="M190,60 C215,80 250,110 270,170 C280,210 260,260 240,300"/>
<path d="M300,100 C320,85 345,80 360,100"/>
<path d="M47,280 C30,290 28,325 59,330 L109,317"/>
<path d="M47,280 L103,249 C120,225 150,205 190,204"/>
<path d="M56,285 C70,300 68,320 62,328"/>
<path d="M93,268 C110,300 120,310 140,300"/>
<path d="M130,195 C170,160 220,140 300,140"/>
<path d="M190,204 C175,300 130,420 115,514 C150,440 200,360 235,287"/>
<path d="M241,224 C245,300 260,390 165,493 C230,440 300,380 328,274 C310,250 280,230 241,224"/>
<path d="M330,290 C400,330 500,360 590,380 C560,350 500,320 440,300 C400,280 360,275 330,270"/>
<path d="M430,70 C450,50 470,40 500,35"/>
<path d="M415,89 C440,60 460,45 472,36"/>
<path d="M600,150 C610,180 630,200 640,210"/>
<path d="M590,170 C600,190 615,205 625,215"/>
<path d="M380,300 C420,320 470,335 520,350"/>
<g stroke="#e3b89e" stroke-width="9" opacity="0.45">
<path d="M150,330 C140,380 130,420 125,470"/>
<path d="M280,300 C285,340 280,380 260,420"/>
<path d="M220,240 C230,250 235,260 238,280"/>
<path d="M160,230 C170,250 180,270 175,300"/>
</g>
</g>
</svg>
<div class="t" style="left:105.76px;top:50.00px;font-size:31.98px;color:#6b5746;font-weight:400;transform:scaleX(0.9179);-webkit-text-stroke:0.25px #f6f6e9;">BigTerra</div>
<div class="t" style="left:245.00px;top:54.04px;font-size:21.80px;color:#776650;font-weight:400;font-style:italic;transform:scaleX(0.9706);">#GlobalFoodSecurityDrivers</div>
<div class="t" style="left:34.50px;top:137.00px;font-size:45.06px;color:#6a4a2f;transform:scaleX(0.9012);-webkit-text-stroke:0.99px #6a4a2f;">SPOTLIGHT</div>
<div class="t" style="left:34.49px;top:198.00px;font-size:31.98px;color:#7a6348;transform:scaleX(0.9097);-webkit-text-stroke:0.70px #7a6348;">CASE OF MAIZE</div>
<div class="t" style="left:128.08px;top:276.60px;font-size:29.07px;color:#7b6448;transform:scaleX(0.9213);-webkit-text-stroke:0.64px #7b6448;">Ukraine and Brazil are among the largest</div>
<div class="t" style="left:244.08px;top:316.00px;font-size:29.07px;color:#7b6448;transform:scaleX(0.9200);-webkit-text-stroke:0.64px #7b6448;">exporters of maize in the world</div>
<div class="t" style="left:276.08px;top:370.01px;font-size:12.65px;color:#1c1c1c;transform:scaleX(0.9212);-webkit-text-stroke:0.35px #1c1c1c;">Brazil</div>
<div class="t" style="left:275.09px;top:387.01px;font-size:12.65px;color:#1c1c1c;transform:scaleX(0.9143);-webkit-text-stroke:0.35px #1c1c1c;">15.6%</div>
<div class="t" style="left:118.00px;top:393.01px;font-size:12.65px;color:#1c1c1c;transform:scaleX(0.8780);-webkit-text-stroke:0.35px #1c1c1c;">Others</div>
<div class="t" style="left:120.00px;top:409.41px;font-size:12.65px;color:#1c1c1c;transform:scaleX(0.8889);-webkit-text-stroke:0.35px #1c1c1c;">24.9%</div>
<div class="t" style="left:79.09px;top:504.61px;font-size:12.65px;color:#1c1c1c;transform:scaleX(0.9100);-webkit-text-stroke:0.35px #1c1c1c;">France</div>
<div class="t" style="left:85.00px;top:521.41px;font-size:12.65px;color:#1c1c1c;transform:scaleX(0.8966);-webkit-text-stroke:0.35px #1c1c1c;">4.4%</div>
<div class="t" style="left:347.12px;top:514.41px;font-size:12.65px;color:#1c1c1c;transform:scaleX(0.8846);-webkit-text-stroke:0.35px #1c1c1c;">USA</div>
<div class="t" style="left:343.00px;top:531.41px;font-size:12.65px;color:#1c1c1c;transform:scaleX(0.9167);-webkit-text-stroke:0.35px #1c1c1c;">25.4%</div>
<div class="t" style="left:81.00px;top:582.41px;font-size:12.65px;color:#1c1c1c;transform:scaleX(0.8983);-webkit-text-stroke:0.35px #1c1c1c;">Argentina</div>
<div class="t" style="left:92.09px;top:599.01px;font-size:12.65px;color:#1c1c1c;transform:scaleX(0.9143);-webkit-text-stroke:0.35px #1c1c1c;">16.9%</div>
<div class="t" style="left:229.48px;top:618.61px;font-size:12.65px;color:#1c1c1c;transform:scaleX(0.9244);-webkit-text-stroke:0.35px #1c1c1c;">Ukraine</div>
<div class="t" style="left:233.45px;top:635.01px;font-size:12.65px;color:#1c1c1c;transform:scaleX(0.9486);-webkit-text-stroke:0.35px #1c1c1c;">12.8%</div>
<div class="t" style="left:100.04px;top:656.40px;font-size:16.57px;color:#c8683a;transform:scaleX(0.9621);-webkit-text-stroke:0.36px #c8683a;">Maize exporting countries in 2020</div>
<div class="t" style="left:429.00px;top:397.00px;font-size:29.07px;color:#6e8a1e;transform:scaleX(0.9449);-webkit-text-stroke:0.64px #6e8a1e;">Together Ukraine</div>
<div class="t" style="left:391.07px;top:437.00px;font-size:29.07px;color:#6e8a1e;transform:scaleX(0.9319);-webkit-text-stroke:0.64px #6e8a1e;">and Brazil makes up</div>
<div class="t" style="left:387.60px;top:477.00px;font-size:29.07px;color:#6e8a1e;transform:scaleX(0.9409);-webkit-text-stroke:0.64px #6e8a1e;">to 11 billion $ export</div>
<div class="t" style="left:534.04px;top:517.00px;font-size:29.07px;color:#6e8a1e;transform:scaleX(0.9565);-webkit-text-stroke:0.64px #6e8a1e;">of maize</div>
<div class="t" style="left:187.07px;top:700.60px;font-size:31.98px;color:#7b6448;transform:scaleX(0.9657);-webkit-text-stroke:0.70px #7b6448;">Maize requires a lot of fertilizer</div>
<div class="t" style="left:252.97px;top:752.01px;font-size:12.65px;color:#1c1c1c;transform:scaleX(1.0303);-webkit-text-stroke:0.35px #1c1c1c;">Maize</div>
<div class="t" style="left:255.04px;top:770.01px;font-size:12.65px;color:#1c1c1c;transform:scaleX(0.9600);-webkit-text-stroke:0.35px #1c1c1c;">14.2%</div>
<div class="t" style="left:121.00px;top:765.41px;font-size:12.65px;color:#1c1c1c;transform:scaleX(0.9024);-webkit-text-stroke:0.35px #1c1c1c;">Others</div>
<div class="t" style="left:123.00px;top:783.01px;font-size:12.65px;color:#1c1c1c;transform:scaleX(0.9167);-webkit-text-stroke:0.35px #1c1c1c;">20.4%</div>
<div class="t" style="left:341.00px;top:831.41px;font-size:12.65px;color:#1c1c1c;transform:scaleX(0.9231);-webkit-text-stroke:0.35px #1c1c1c;">Soybean</div>
<div class="t" style="left:347.44px;top:849.01px;font-size:12.65px;color:#1c1c1c;transform:scaleX(0.9600);-webkit-text-stroke:0.35px #1c1c1c;">12.3%</div>
<div class="t" style="left:63.60px;top:862.01px;font-size:12.65px;color:#1c1c1c;transform:scaleX(0.9308);-webkit-text-stroke:0.35px #1c1c1c;">Oilseeds</div>
<div class="t" style="left:74.40px;top:879.61px;font-size:12.65px;color:#1c1c1c;transform:scaleX(0.9172);-webkit-text-stroke:0.35px #1c1c1c;">7.6%</div>
<div class="t" style="left:320.68px;top:924.41px;font-size:12.65px;color:#1c1c1c;transform:scaleX(0.9231);-webkit-text-stroke:0.35px #1c1c1c;">Rice</div>
<div class="t" style="left:321.42px;top:942.01px;font-size:12.65px;color:#1c1c1c;transform:scaleX(0.9826);-webkit-text-stroke:0.35px #1c1c1c;">11%</div>
<div class="t" style="left:81.60px;top:922.01px;font-size:12.65px;color:#1c1c1c;transform:scaleX(0.9316);-webkit-text-stroke:0.35px #1c1c1c;">Wheat</div>
<div class="t" style="left:85.60px;top:939.01px;font-size:12.65px;color:#1c1c1c;transform:scaleX(0.9103);-webkit-text-stroke:0.35px #1c1c1c;">7.4%</div>
<div class="t" style="left:121.76px;top:971.81px;font-size:12.65px;color:#1c1c1c;transform:scaleX(0.9412);-webkit-text-stroke:0.35px #1c1c1c;">Fruits</div>
<div class="t" style="left:125.00px;top:989.31px;font-size:12.65px;color:#1c1c1c;transform:scaleX(0.9207);-webkit-text-stroke:0.35px #1c1c1c;">8.5%</div>
<div class="t" style="left:259.04px;top:980.21px;font-size:12.65px;color:#1c1c1c;transform:scaleX(0.9574);-webkit-text-stroke:0.35px #1c1c1c;">Palm oil</div>
<div class="t" style="left:274.60px;top:997.71px;font-size:12.65px;color:#1c1c1c;transform:scaleX(0.8944);-webkit-text-stroke:0.35px #1c1c1c;">8%</div>
<div class="t" style="left:178.90px;top:996.71px;font-size:12.65px;color:#1c1c1c;transform:scaleX(0.9561);-webkit-text-stroke:0.35px #1c1c1c;">Vegetables</div>
<div class="t" style="left:193.05px;top:1015.01px;font-size:12.65px;color:#1c1c1c;transform:scaleX(0.9486);-webkit-text-stroke:0.35px #1c1c1c;">10.6%</div>
<div class="t" style="left:116.60px;top:1043.00px;font-size:16.57px;color:#c8683a;transform:scaleX(0.9483);-webkit-text-stroke:0.36px #c8683a;">Total fertilizer use by crop</div>
<div class="t" style="left:148.70px;top:1064.20px;font-size:16.57px;color:#c8683a;transform:scaleX(0.9413);-webkit-text-stroke:0.36px #c8683a;">at the global level</div>
<div class="t" style="left:439.13px;top:813.00px;font-size:33.43px;color:#6e8a1e;transform:scaleX(0.9367);-webkit-text-stroke:0.74px #6e8a1e;">Maize leads in</div>
<div class="t" style="left:527.00px;top:858.00px;font-size:33.43px;color:#6e8a1e;transform:scaleX(0.9385);-webkit-text-stroke:0.74px #6e8a1e;">fertilizer</div>
<div class="t" style="left:459.09px;top:903.00px;font-size:33.43px;color:#6e8a1e;transform:scaleX(0.9082);-webkit-text-stroke:0.74px #6e8a1e;">consumption</div>
<div class="t" style="left:464.08px;top:948.00px;font-size:33.43px;color:#6e8a1e;transform:scaleX(0.9154);-webkit-text-stroke:0.74px #6e8a1e;">among other</div>
<div class="t" style="left:551.10px;top:993.00px;font-size:33.43px;color:#6e8a1e;transform:scaleX(0.8989);-webkit-text-stroke:0.74px #6e8a1e;">crops</div>
<div class="t" style="left:277.10px;top:1116.60px;font-size:34.88px;color:#7b6448;transform:scaleX(0.9521);-webkit-text-stroke:0.77px #7b6448;">Maize prices  increasing</div>
<div class="t" style="left:425.05px;top:1164.40px;font-size:34.88px;color:#7b6448;transform:scaleX(0.9530);-webkit-text-stroke:0.77px #7b6448;">extremely fast</div>
<div class="t" style="left:423.07px;top:1220.00px;font-size:27.62px;color:#6e8a1e;transform:scaleX(0.9256);-webkit-text-stroke:0.61px #6e8a1e;">So, because of the</div>
<div class="t" style="left:424.00px;top:1258.00px;font-size:27.62px;color:#6e8a1e;transform:scaleX(0.9180);-webkit-text-stroke:0.61px #6e8a1e;">war in Ukraine and</div>
<div class="t" style="left:418.00px;top:1295.00px;font-size:27.62px;color:#6e8a1e;transform:scaleX(0.9331);-webkit-text-stroke:0.61px #6e8a1e;">fertilizer problems</div>
<div class="t" style="left:459.20px;top:1332.00px;font-size:27.62px;color:#6e8a1e;transform:scaleX(0.8990);-webkit-text-stroke:0.61px #6e8a1e;">in the world and</div>
<div class="t" style="left:421.10px;top:1369.00px;font-size:27.62px;color:#6e8a1e;transform:scaleX(0.8968);-webkit-text-stroke:0.61px #6e8a1e;">especially in Brazil,</div>
<div class="t" style="left:396.20px;top:1405.00px;font-size:27.62px;color:#6e8a1e;transform:scaleX(0.9022);-webkit-text-stroke:0.61px #6e8a1e;">prices are rising  fast</div>
<div class="t" style="left:32.97px;top:1191.01px;font-size:12.65px;color:#1c1c1c;transform:scaleX(1.0333);-webkit-text-stroke:0.35px #1c1c1c;">1 000</div>
<div class="t" style="left:44.00px;top:1233.01px;font-size:12.65px;color:#1c1c1c;-webkit-text-stroke:0.35px #1c1c1c;">750</div>
<div class="t" style="left:44.00px;top:1274.01px;font-size:12.65px;color:#1c1c1c;-webkit-text-stroke:0.35px #1c1c1c;">500</div>
<div class="t" style="left:44.00px;top:1316.01px;font-size:12.65px;color:#1c1c1c;-webkit-text-stroke:0.35px #1c1c1c;">250</div>
<div class="t" style="left:58.00px;top:1357.01px;font-size:12.65px;color:#1c1c1c;-webkit-text-stroke:0.35px #1c1c1c;">0</div>
<div class="t" style="left:36.60px;top:1454.74px;font-size:9.30px;color:#8a8070;font-weight:400;transform:scaleX(0.9948);-webkit-text-stroke:0.35px #8a8070;">Sources:</div>
<div class="t" style="left:36.60px;top:1466.84px;font-size:9.30px;color:#8a8070;font-weight:400;transform:scaleX(0.9948);-webkit-text-stroke:0.35px #8a8070;">www.oec.world</div>
<div class="t" style="left:36.60px;top:1479.34px;font-size:9.30px;color:#8a8070;font-weight:400;transform:scaleX(0.9948);-webkit-text-stroke:0.35px #8a8070;">www.ourworldindata.org</div>
<div class="t" style="left:36.60px;top:1491.84px;font-size:9.30px;color:#8a8070;font-weight:400;transform:scaleX(0.9948);-webkit-text-stroke:0.35px #8a8070;">www.comtrade.un.org</div>
<div class="t" style="left:36.60px;top:1504.34px;font-size:9.30px;color:#8a8070;font-weight:400;transform:scaleX(0.9948);-webkit-text-stroke:0.35px #8a8070;">www.fertilizer.org</div>
<div class="t" style="left:36.60px;top:1516.84px;font-size:9.30px;color:#8a8070;font-weight:400;transform:scaleX(0.9948);-webkit-text-stroke:0.35px #8a8070;">www.tradingeconomics.com</div>
<div class="xl" style="left:-3.50px;top:1369.18px;width:100px;font-size:12.8px;transform-origin:100% 10.82px">May 2017</div>
<div class="xl" style="left:23.25px;top:1369.18px;width:100px;font-size:12.8px;transform-origin:100% 10.82px">Nov 2017</div>
<div class="xl" style="left:50.00px;top:1369.18px;width:100px;font-size:12.8px;transform-origin:100% 10.82px">May 2018</div>
<div class="xl" style="left:76.75px;top:1369.18px;width:100px;font-size:12.8px;transform-origin:100% 10.82px">Nov 2018</div>
<div class="xl" style="left:103.50px;top:1369.18px;width:100px;font-size:12.8px;transform-origin:100% 10.82px">May 2019</div>
<div class="xl" style="left:130.25px;top:1369.18px;width:100px;font-size:12.8px;transform-origin:100% 10.82px">Nov 2019</div>
<div class="xl" style="left:157.00px;top:1369.18px;width:100px;font-size:12.8px;transform-origin:100% 10.82px">May 2020</div>
<div class="xl" style="left:183.75px;top:1369.18px;width:100px;font-size:12.8px;transform-origin:100% 10.82px">Nov 2020</div>
<div class="xl" style="left:210.50px;top:1369.18px;width:100px;font-size:12.8px;transform-origin:100% 10.82px">May 2021</div>
<div class="xl" style="left:237.25px;top:1369.18px;width:100px;font-size:12.8px;transform-origin:100% 10.82px">Nov 2021</div>
<div class="xl" style="left:264.00px;top:1369.18px;width:100px;font-size:12.8px;transform-origin:100% 10.82px">March 2022</div>
<div class="xl" style="left:290.75px;top:1369.18px;width:100px;font-size:12.8px;transform-origin:100% 10.82px">May 2022</div>
<div style="position:absolute;left:124.2px;top:53.4px;width:3.6px;height:3.6px;border-radius:50%;background:#e2a674"></div>
</body></html>
